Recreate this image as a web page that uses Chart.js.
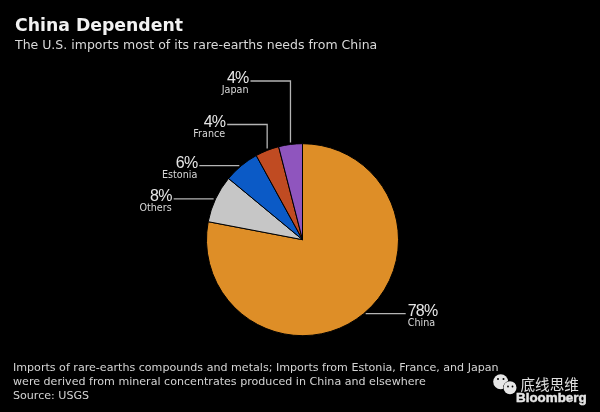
<!DOCTYPE html>
<html><head><meta charset="utf-8">
<script src="https://cdn.jsdelivr.net/npm/chart.js@4"></script>
<style>html,body{margin:0;padding:0;background:#000}#w{position:relative;width:600px;height:412px;overflow:hidden}canvas{display:block}</style>
</head><body><div id="w"><canvas id="c" width="600" height="412"></canvas></div>
<script>
const categories = ["China","Others","Estonia","France","Japan"];
const seriesValues = [78,8,6,4,4];
const sliceColors = ["#DE8E27","#C6C6C6","#0B5AC6","#C04B22","#8F55BE"];
const titleText = "China Dependent";
const subtitleText = "The U.S. imports most of its rare-earths needs from China";
const footnoteLines = ["Imports of rare-earths compounds and metals; Imports from Estonia, France, and Japan","were derived from mineral concentrates produced in China and elsewhere","Source: USGS"];
const FONT = '"DejaVu Sans"';
const calloutPlugin = {
  id:'callouts',
  afterDatasetsDraw(chart){
    const ctx=chart.ctx, arcs=chart.getDatasetMeta(0).data;
    ctx.save();
    arcs.forEach((arc,i)=>{
      const mid=(arc.startAngle+arc.endAngle)/2;
      const ax=arc.x+arc.outerRadius*Math.cos(mid), ay=arc.y+arc.outerRadius*Math.sin(mid);
      const name=categories[i];
      let lx,ly,side;
      ctx.strokeStyle='#B4B4B4';ctx.lineWidth=1.3;ctx.beginPath();
      if(name==='China'){lx=ax+44;ly=ay;side=1;ctx.moveTo(ax+2,ay);ctx.lineTo(lx-2,ly);}
      else if(name==='Japan'||name==='France'){
        ly=name==='Japan'?81:124.5;lx=ax-42;side=-1;
        ctx.moveTo(ax,ay-2);ctx.lineTo(ax,ly);ctx.lineTo(lx+2,ly);
      } else {lx=ax-44;ly=ay;side=-1;ctx.moveTo(ax-2,ay);ctx.lineTo(lx+2,ly);}
      ctx.stroke();
      ctx.textAlign=side>0?'left':'right';ctx.textBaseline='middle';ctx.fillStyle='#E6E6E6';
      ctx.font='16px "Liberation Sans Narrow","Liberation Sans"';ctx.letterSpacing='-0.8px';
      ctx.fillText(seriesValues[i]+'%',lx,ly-2);
      ctx.letterSpacing='0px';
      ctx.fillStyle='#D8D8D8';ctx.font='9.6px '+FONT;ctx.fillText(name,lx,ly+9.5);
    });
    ctx.restore();
  }
};
const pagePlugin = {
  id:'pageText',
  beforeDraw(chart){const c=chart.ctx;c.save();c.fillStyle='#000';c.fillRect(0,0,600,412);c.restore();},
  afterDraw(chart){
    const c=chart.ctx;c.save();c.textBaseline='middle';c.textAlign='left';
    c.fillStyle='#D4D4D4';c.font='11.1px '+FONT;
    footnoteLines.forEach((t,i)=>c.fillText(t,13,368+i*14.1));
    // watermark
    c.fillStyle='#E6E6E6';
    c.beginPath();c.arc(500.7,381.7,7.5,0,7);c.fill();
    c.fillStyle='#000';c.beginPath();c.arc(498,379,1,0,7);c.arc(503.5,379,1,0,7);c.fill();
    c.fillStyle='#E6E6E6';c.strokeStyle='#000';c.lineWidth=1;
    c.beginPath();c.arc(510,387.7,6.5,0,7);c.stroke();c.fill();
    c.fillStyle='#000';c.beginPath();c.arc(508,386.5,.9,0,7);c.arc(512.5,386.5,.9,0,7);c.fill();
    c.fillStyle='#E0E0E0';c.font='14.6px "Noto Sans CJK SC"';c.fillText('底线思维',520.5,384);
    c.fillStyle='#E4E4E4';c.strokeStyle='#E4E4E4';c.lineWidth=.5;c.font='bold 13.4px "Liberation Sans"';c.textAlign='right';
    c.fillText('Bloomberg',586.7,398);c.strokeText('Bloomberg',586.7,398);
    c.restore();
  }
};
new Chart(document.getElementById('c'),{
  type:'pie',
  data:{labels:categories,datasets:[{data:seriesValues,backgroundColor:sliceColors,borderColor:'#000',borderWidth:1,radius:96}]},
  plugins:[calloutPlugin,pagePlugin],
  options:{
    responsive:false,animation:false,devicePixelRatio:1,
    layout:{padding:{left:15,right:10,top:0,bottom:0}},
    plugins:{
      legend:{display:false},tooltip:{enabled:false},
      title:{display:true,text:titleText,align:'start',color:'#F2F2F2',font:{family:FONT,size:17.3,weight:'bold'},padding:{top:16,bottom:1}},
      subtitle:{display:true,text:subtitleText,align:'start',color:'#D8D8D8',font:{family:FONT,size:12.5},padding:{bottom:14.6}}
    }
  }
});
</script></body></html>
